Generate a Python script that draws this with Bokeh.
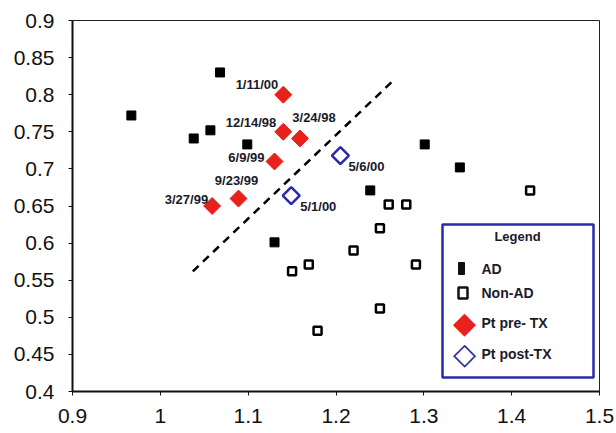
from bokeh.plotting import figure
from bokeh.models import (ColumnDataSource, FixedTicker, CustomJSTickFormatter,
                          Range1d, Label, BoxAnnotation)
from bokeh.core.properties import value
from bokeh.embed import file_html
from bokeh.resources import INLINE
import math

# ---- data ----
ad_x = [0.967, 1.038, 1.057, 1.068, 1.099, 1.130, 1.239, 1.301, 1.341]
ad_y = [0.772, 0.741, 0.752, 0.830, 0.733, 0.601, 0.671, 0.733, 0.702]

nonad_x = [1.150, 1.169, 1.179, 1.220, 1.250, 1.250, 1.260, 1.280, 1.291, 1.421]
nonad_y = [0.562, 0.571, 0.482, 0.590, 0.620, 0.512, 0.652, 0.652, 0.571, 0.671]

pre_x = [1.140, 1.140, 1.159, 1.130, 1.089, 1.059]
pre_y = [0.800, 0.750, 0.741, 0.710, 0.660, 0.650]
pre_labels = ["1/11/00", "12/14/98", "3/24/98", "6/9/99", "9/23/99", "3/27/99"]

post_x = [1.149, 1.205]
post_y = [0.664, 0.718]
post_labels = ["5/1/00", "5/6/00"]

line_x = [1.037, 1.266]
line_y = [0.562, 0.820]

x_ticks = [0.9, 1.0, 1.1, 1.2, 1.3, 1.4, 1.5]
y_ticks = [0.4, 0.45, 0.5, 0.55, 0.6, 0.65, 0.7, 0.75, 0.8, 0.85, 0.9]

legend_title = "Legend"
legend_labels = ["AD", "Non-AD", "Pt pre- TX", "Pt post-TX"]

# ---- styling ----
pre_style = dict(
    x_offset=[-5, -7, 14, -10, -2, -4],
    y_offset=[-10, -9, -21, -4, -18, -7],
    align=["right", "right", "center", "right", "center", "right"],
)
post_style = dict(x_offset=[9, 8], y_offset=[11, 11], align=["left", "left"])

FONT = "Liberation Sans"
TXT = "#1a1a2a"
RED = "#e8211c"
BLUE = "#2a2aa8"

FL, FB = 72, 391  # frame left / bottom in canvas px

p = figure(width=616, height=433, output_backend="svg", toolbar_location=None,
           x_range=Range1d(0.9, 1.5), y_range=Range1d(0.4, 0.9),
           min_border_left=72, min_border_right=17, min_border_top=20,
           min_border_bottom=42)
p.background_fill_color = "white"
p.border_fill_color = "white"
p.outline_line_color = "#222222"
p.outline_line_width = 1
p.xgrid.visible = False
p.ygrid.visible = False

fmt = CustomJSTickFormatter(code="return parseFloat(tick.toFixed(2)).toString();")
for ax, ticks in ((p.xaxis[0], x_ticks), (p.yaxis[0], y_ticks)):
    ax.ticker = FixedTicker(ticks=ticks)
    ax.formatter = fmt
    ax.minor_tick_line_color = None
    ax.major_tick_in = 0
    ax.major_tick_out = 4
    ax.axis_line_width = 2
    ax.axis_line_color = "#111111"
    ax.major_tick_line_color = "#111111"
    ax.major_label_text_font = FONT
    ax.major_label_text_font_size = "21px"
    ax.major_label_text_color = "#111111"
p.xaxis.major_label_standoff = 13
p.yaxis.major_label_standoff = 14

# dashed line
p.line(line_x, line_y, line_color="black", line_width=2.5, line_dash="8 6")

p.scatter(ad_x, ad_y, marker="square", size=9, fill_color="black",
          line_color="black", line_width=1)
p.scatter(nonad_x, nonad_y, marker="square", size=8, fill_color="white",
          line_color="black", line_width=2.5)
p.scatter(pre_x, pre_y, marker="square", size=12, angle=math.pi / 4,
          fill_color=RED, line_color=RED, line_width=1)
p.scatter(post_x, post_y, marker="square", size=12, angle=math.pi / 4,
          fill_color="white", line_color=BLUE, line_width=2.5)

src_pre = ColumnDataSource(dict(x=pre_x, y=pre_y, t=pre_labels, **pre_style))
p.text(x="x", y="y", text="t", x_offset="x_offset", y_offset="y_offset",
       text_align="align", text_baseline="middle", source=src_pre,
       text_font=value(FONT), text_font_size="13px", text_font_style="bold",
       text_color=TXT)
src_post = ColumnDataSource(dict(x=post_x, y=post_y, t=post_labels, **post_style))
p.text(x="x", y="y", text="t", x_offset="x_offset", y_offset="y_offset",
       text_align="align", text_baseline="middle", source=src_post,
       text_font=value(FONT), text_font_size="13px", text_font_style="bold",
       text_color=TXT)


# ---- legend (screen-positioned) ----
def sbox(l, r, t, b, **kw):
    return BoxAnnotation(left=l - FL, right=r - FL, top=FB - t, bottom=FB - b,
                         left_units="screen", right_units="screen",
                         top_units="screen", bottom_units="screen", **kw)


p.add_layout(sbox(442, 593, 224, 377, fill_color="white", fill_alpha=1.0,
                  line_color=BLUE, line_width=2.5, line_alpha=1.0))
p.add_layout(Label(x=517 - FL, y=FB - 236, x_units="screen", y_units="screen",
                   text=legend_title, text_align="center", text_baseline="middle",
                   text_font=FONT, text_font_style="bold", text_font_size="13px",
                   text_color=TXT))
# AD / Non-AD legend symbols
p.add_layout(sbox(458, 464, 262, 274, fill_color="#111111", fill_alpha=1.0,
                  line_color="#111111", line_width=1, line_alpha=1.0))
p.add_layout(sbox(458, 467, 287, 298, fill_color="white", fill_alpha=1.0,
                  line_color="#111111", line_width=2.5, line_alpha=1.0))
# diamond legend symbols
p.add_layout(Label(x=464 - FL, y=FB - 322, x_units="screen", y_units="screen",
                   text="\u25C6", text_align="center", text_baseline="middle",
                   text_font="DejaVu Sans", text_font_size="30px", text_color=RED))
p.add_layout(Label(x=464 - FL, y=FB - 353, x_units="screen", y_units="screen",
                   text="\u25C7", text_align="center", text_baseline="middle",
                   text_font="DejaVu Sans", text_font_size="30px",
                   text_font_style="bold", text_color=BLUE))
rows_y = [268, 292, 322, 353]
for lab, ry in zip(legend_labels, rows_y):
    p.add_layout(Label(x=481 - FL, y=FB - ry, x_units="screen", y_units="screen",
                       text=lab, text_align="left", text_baseline="middle",
                       text_font=FONT, text_font_style="bold",
                       text_font_size="14px", text_color=TXT))

open("out.html", "w").write(file_html(p, INLINE))
